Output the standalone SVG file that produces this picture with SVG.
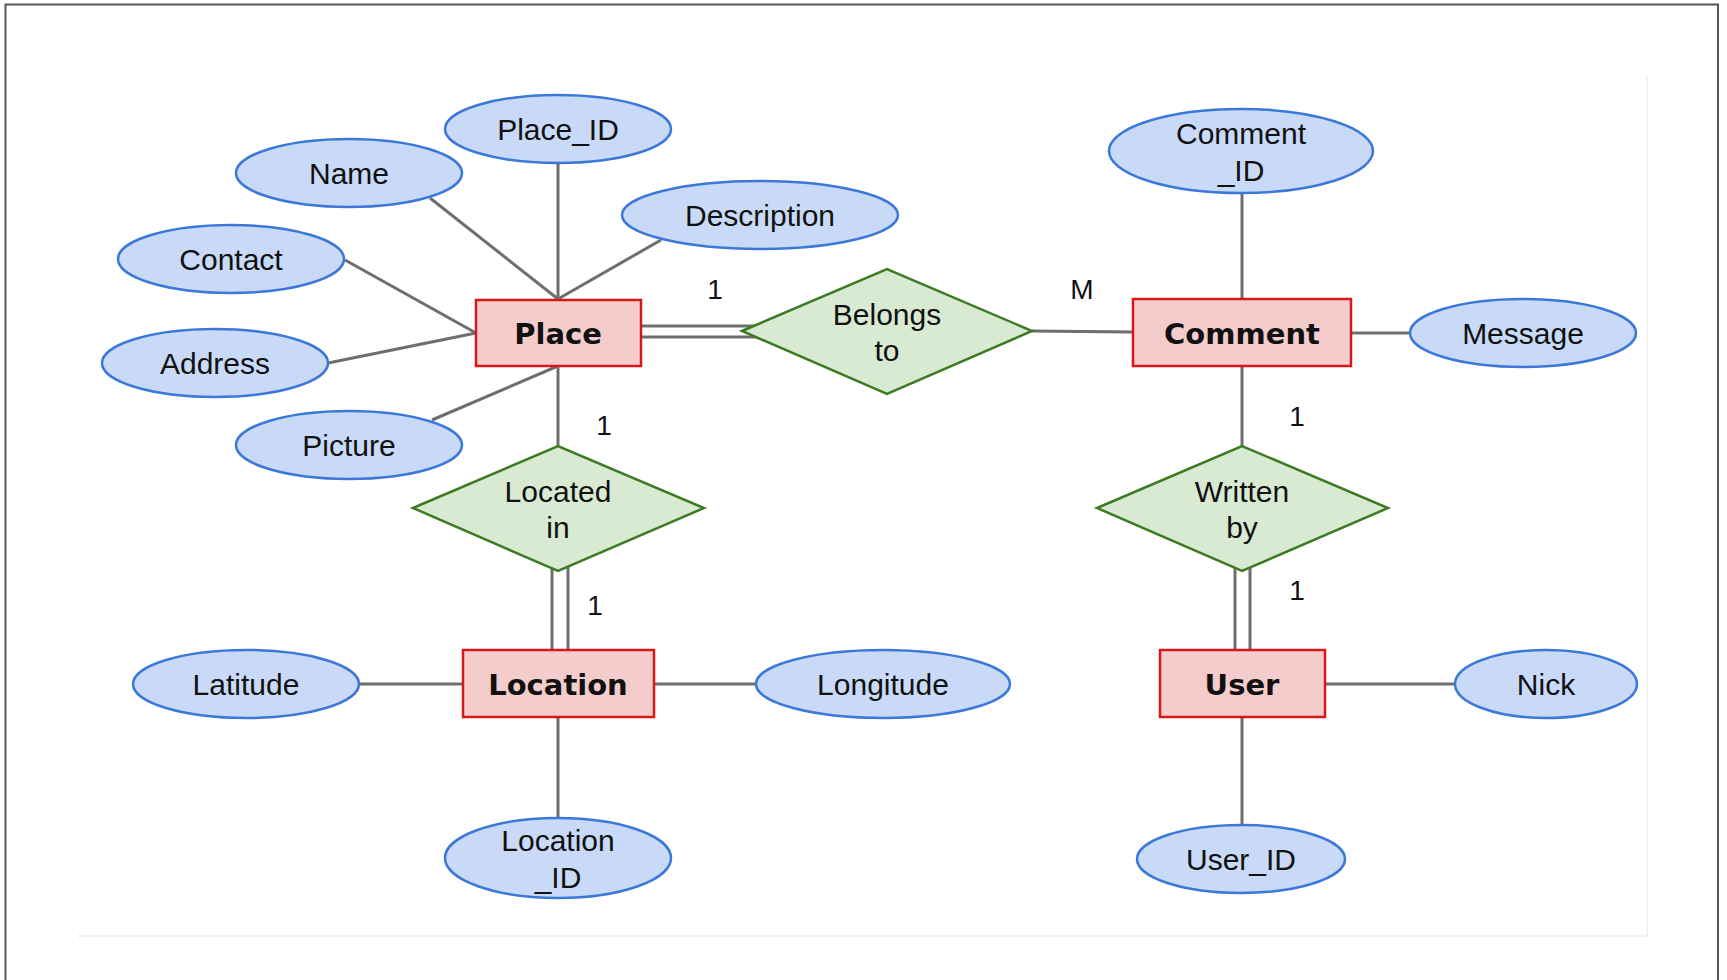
<svg xmlns="http://www.w3.org/2000/svg" width="1727" height="980" viewBox="0 0 1727 980">
  <style>
    .attr { fill: #c9daf8; stroke: #3c78d8; stroke-width: 2.5; }
    .ent { fill: #f4cccc; stroke: #d81818; stroke-width: 2.5; }
    .rel { fill: #d9ead3; stroke: #3d7a22; stroke-width: 2.5; }
    .lbl { font-family: "Liberation Sans", Arial, sans-serif; font-size: 30px; fill: #111; text-anchor: middle; }
    .ename { font-family: "DejaVu Sans", Verdana, sans-serif; font-weight: bold; font-size: 29px; fill: #111; text-anchor: middle; }
    .card { font-family: "Liberation Sans", Arial, sans-serif; font-size: 28px; fill: #111; text-anchor: middle; }
    .conn line { stroke: #6e6e6e; stroke-width: 3; fill: none; }
  </style>

  <rect x="0" y="0" width="1727" height="980" fill="#ffffff"/>
  <!-- outer frame -->
  <path d="M5.5,990 V4.5 H1718 V990" fill="none" stroke="#555" stroke-width="2"/>
  <!-- faint inner sheet edge -->
  <path d="M77,936 H1647 V77" fill="none" stroke="#f2f2f2" stroke-width="2"/>

  <!-- connectors -->
  <g id="connectors" class="conn">
    <line x1="558" y1="163" x2="558" y2="300"/>
    <line x1="430" y1="198" x2="558" y2="299"/>
    <line x1="661" y1="240" x2="558" y2="299"/>
    <line x1="345" y1="260" x2="476" y2="333"/>
    <line x1="328" y1="363" x2="476" y2="333"/>
    <line x1="432" y1="420" x2="558" y2="366"/>
    <line x1="558" y1="366" x2="558" y2="446"/>
    <line x1="641" y1="326" x2="754" y2="326"/>
    <line x1="641" y1="337" x2="756" y2="337"/>
    <line x1="1032" y1="331" x2="1133" y2="332"/>
    <line x1="1242" y1="193" x2="1242" y2="298"/>
    <line x1="1351" y1="333" x2="1432" y2="333"/>
    <line x1="1242" y1="366" x2="1242" y2="446"/>
    <line x1="1235" y1="567" x2="1235" y2="650"/>
    <line x1="1250" y1="566" x2="1250" y2="650"/>
    <line x1="552" y1="567" x2="552" y2="650"/>
    <line x1="568" y1="566" x2="568" y2="650"/>
    <line x1="349" y1="684" x2="463" y2="684"/>
    <line x1="654" y1="684" x2="756" y2="684"/>
    <line x1="558" y1="717" x2="558" y2="818"/>
    <line x1="1325" y1="684" x2="1455" y2="684"/>
    <line x1="1242" y1="717" x2="1242" y2="828"/>
  </g>

  <!-- entities -->
  <g id="place">
    <rect class="ent" x="476" y="300" width="165" height="66"/>
    <text class="ename" x="558" y="344">Place</text>
  </g>
  <g id="comment">
    <rect class="ent" x="1133" y="299" width="218" height="67"/>
    <text class="ename" x="1242" y="344">Comment</text>
  </g>
  <g id="location">
    <rect class="ent" x="463" y="650" width="191" height="67"/>
    <text class="ename" x="558" y="695">Location</text>
  </g>
  <g id="user">
    <rect class="ent" x="1160" y="650" width="165" height="67"/>
    <text class="ename" x="1242" y="695">User</text>
  </g>

  <!-- relationships -->
  <g id="belongs-to">
    <polygon class="rel" points="742,331 887,269 1032,331 887,394"/>
    <text class="lbl" x="887" y="325">Belongs</text>
    <text class="lbl" x="887" y="361">to</text>
  </g>
  <g id="located-in">
    <polygon class="rel" points="413,508 558,446 704,508 558,571"/>
    <text class="lbl" x="558" y="502">Located</text>
    <text class="lbl" x="558" y="538">in</text>
  </g>
  <g id="written-by">
    <polygon class="rel" points="1097,508 1242,446 1388,508 1242,571"/>
    <text class="lbl" x="1242" y="502">Written</text>
    <text class="lbl" x="1242" y="538">by</text>
  </g>

  <!-- attributes -->
  <g id="place-id">
    <ellipse class="attr" cx="558" cy="129" rx="113" ry="34"/>
    <text class="lbl" x="558" y="140">Place_ID</text>
  </g>
  <g id="name">
    <ellipse class="attr" cx="349" cy="173" rx="113" ry="34"/>
    <text class="lbl" x="349" y="184">Name</text>
  </g>
  <g id="description">
    <ellipse class="attr" cx="760" cy="215" rx="138" ry="34"/>
    <text class="lbl" x="760" y="226">Description</text>
  </g>
  <g id="contact">
    <ellipse class="attr" cx="231" cy="259" rx="113" ry="34"/>
    <text class="lbl" x="231" y="270">Contact</text>
  </g>
  <g id="address">
    <ellipse class="attr" cx="215" cy="363" rx="113" ry="34"/>
    <text class="lbl" x="215" y="374">Address</text>
  </g>
  <g id="picture">
    <ellipse class="attr" cx="349" cy="445" rx="113" ry="34"/>
    <text class="lbl" x="349" y="456">Picture</text>
  </g>
  <g id="comment-id">
    <ellipse class="attr" cx="1241" cy="151" rx="132" ry="42"/>
    <text class="lbl" x="1241" y="144">Comment</text>
    <text class="lbl" x="1241" y="181">_ID</text>
  </g>
  <g id="message">
    <ellipse class="attr" cx="1523" cy="333" rx="113" ry="34"/>
    <text class="lbl" x="1523" y="344">Message</text>
  </g>
  <g id="latitude">
    <ellipse class="attr" cx="246" cy="684" rx="113" ry="34"/>
    <text class="lbl" x="246" y="695">Latitude</text>
  </g>
  <g id="longitude">
    <ellipse class="attr" cx="883" cy="684" rx="127" ry="34"/>
    <text class="lbl" x="883" y="695">Longitude</text>
  </g>
  <g id="location-id">
    <ellipse class="attr" cx="558" cy="858" rx="113" ry="40"/>
    <text class="lbl" x="558" y="851">Location</text>
    <text class="lbl" x="558" y="888">_ID</text>
  </g>
  <g id="nick">
    <ellipse class="attr" cx="1546" cy="684" rx="91" ry="34"/>
    <text class="lbl" x="1546" y="695">Nick</text>
  </g>
  <g id="user-id">
    <ellipse class="attr" cx="1241" cy="859" rx="104" ry="34"/>
    <text class="lbl" x="1241" y="870">User_ID</text>
  </g>

  <!-- cardinalities -->
  <g id="cardinalities">
    <text class="card" x="715" y="299">1</text>
    <text class="card" x="1082" y="299">M</text>
    <text class="card" x="604" y="435">1</text>
    <text class="card" x="595" y="615">1</text>
    <text class="card" x="1297" y="426">1</text>
    <text class="card" x="1297" y="600">1</text>
  </g>
</svg>
